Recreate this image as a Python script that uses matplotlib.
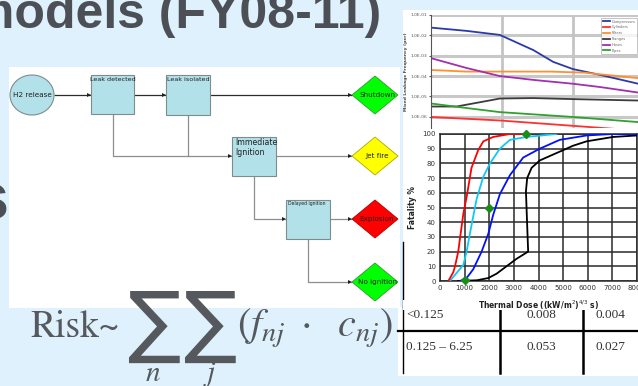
import matplotlib
matplotlib.use("Agg")
import matplotlib.pyplot as plt
from matplotlib.patches import Rectangle, Ellipse, Polygon
import numpy as np

# ---------------- data ----------------
title_text = "models (FY08-11)"

# top chart: leakage frequency (log) vs. leak size (arbitrary x units)
leg_labels = ["Compressors", "Cylinders", "Filters", "Flanges", "Hoses", "Pipes"]
blue_x = [0.0, 0.50, 0.97, 1.44, 1.72, 2.0, 2.38, 2.92]
blue_y = [2.4e-2, 1.66e-2, 1.05e-2, 1.9e-3, 5.0e-4, 2.2e-4, 1.15e-4, 4.2e-5]
red_x = [0.0, 0.97, 2.0, 2.92]
red_y = [9.8e-7, 6.6e-7, 3.6e-7, 2.1e-7]
orange_x = [0.0, 0.50, 0.97, 1.68, 2.15, 2.92]
orange_y = [2.0e-4, 1.66e-4, 1.66e-4, 1.66e-4, 1.48e-4, 7.9e-5]
black_x = [0.0, 0.36, 0.74, 0.97, 1.44, 2.0, 2.92]
black_y = [3.2e-6, 3.2e-6, 5.6e-6, 7.9e-6, 8.3e-6, 7.4e-6, 6.3e-6]
purple_x = [0.0, 0.50, 0.97, 1.44, 2.0, 2.38, 2.92]
purple_y = [7.6e-4, 2.5e-4, 1.0e-4, 6.5e-5, 4.2e-5, 2.9e-5, 1.55e-5]
green_x = [0.0, 0.50, 0.97, 2.0, 2.92]
green_y = [4.5e-6, 2.7e-6, 1.7e-6, 9.8e-7, 5.5e-7]
top_ticks = [1e-1, 1e-2, 1e-3, 1e-4, 1e-5, 1e-6]
top_ticklabels = ["1.0E-01", "1.0E-02", "1.0E-03", "1.0E-04", "1.0E-05", "1.0E-06"]

# lower chart: fatality vs thermal dose
fr_dose = [340, 540, 610, 740, 950, 1080, 1280, 1550, 1760, 2160, 2840, 3500]
fr_pct = [0, 6, 10, 20, 46, 57, 77, 89, 95, 98, 100, 100]
fc_dose = [400, 950, 1080, 1280, 1490, 1760, 2030, 2430, 2840, 3510, 4730]
fc_pct = [0, 11, 20, 38, 56, 71, 80, 90, 96, 98, 100]
fb_dose = [810, 1080, 1350, 1690, 1960, 2160, 2430, 2840, 3380, 4050, 4860, 5950, 7000, 8000]
fb_pct = [0, 2, 8, 20, 32, 45, 59, 72, 84, 90, 96, 99, 100, 100]
fk_dose = [740, 1500, 1960, 2300, 2700, 3100, 3580, 3540, 3490, 3540, 3720, 3920, 4050,
           4590, 5000, 5400, 5950, 7030, 8000]
fk_pct = [0, 0.5, 2, 5, 10, 15, 20, 38, 61, 70, 77, 80, 82, 86, 89, 92, 95, 98, 99]
mk_dose = [1000, 2000, 3500]
mk_pct = [1, 50, 100]

# table
tab_col1 = ["<0.125", "0.125 \u2013 6.25"]
tab_col2 = ["0.008", "0.053"]
tab_col3 = ["0.004", "0.027"]

# ---------------- figure ----------------
W, H = 638, 386
BG = "#dff1fc"
fig = plt.figure(figsize=(W / 100, H / 100), dpi=100)
fig.patch.set_facecolor(BG)

ax0 = fig.add_axes([0, 0, 1, 1])
ax0.set_xlim(0, W)
ax0.set_ylim(H, 0)
ax0.axis("off")
ax0.set_zorder(0)


def px_axes(x0, y0, x1, y1):
    return fig.add_axes([x0 / W, 1 - y1 / H, (x1 - x0) / W, (y1 - y0) / H])


TXT = "#4c5056"
# title
ax0.text(-30, 28, title_text, fontsize=36, fontweight="bold", color=TXT,
         family="Liberation Sans", va="baseline", ha="left", zorder=1)
ax0.text(9, 219, "s", fontsize=48, fontweight="bold", color=TXT,
         family="Liberation Sans", va="baseline", ha="right", zorder=1)

# white panels
ax0.add_patch(Rectangle((9, 67), 391, 241, facecolor="white", edgecolor="none", zorder=2))
ax0.add_patch(Rectangle((403, 10), 235, 122, facecolor="white", edgecolor="none", zorder=2))
ax0.add_patch(Rectangle((403, 130), 235, 177, facecolor="white", edgecolor="none", zorder=2))
ax0.add_patch(Rectangle((398, 307), 240, 69, facecolor="white", edgecolor="none", zorder=2))
ax0.plot([403, 403], [242, 307], color="black", lw=1.0, zorder=3)

# ---------------- flowchart ----------------
BOX = "#b3e1e9"
BEDGE = "#7f8c8f"
NARROW = ["Liberation Sans Narrow", "DejaVu Sans"]


def box(x0, y0, x1, y1):
    ax0.add_patch(Rectangle((x0, y0), x1 - x0, y1 - y0, facecolor=BOX, edgecolor=BEDGE,
                            lw=0.8, zorder=4))


def diamond(cx, cy, fc, ec, label):
    ax0.add_patch(Polygon([(cx - 23, cy), (cx, cy - 19), (cx + 23, cy), (cx, cy + 19)],
                          closed=True, facecolor=fc, edgecolor=ec, lw=0.6, zorder=4))
    ax0.text(cx + 2, cy, label, fontsize=5.2, family=NARROW, ha="center", va="center",
             color="#202020", zorder=5)


def arrow_line(pts, color):
    xs = [p[0] for p in pts]
    ys = [p[1] for p in pts]
    ax0.plot(xs, ys, color=color, lw=0.9, zorder=3, solid_capstyle="butt")
    ax0.add_patch(Polygon([(xs[-1], ys[-1]), (xs[-1] - 4, ys[-1] - 2), (xs[-1] - 4, ys[-1] + 2)],
                          closed=True, facecolor="#202020", edgecolor="none", zorder=5))


DARK = "#2b2b2b"
GREY = "#8e8e8e"
arrow_line([(54, 95), (91, 95)], DARK)
arrow_line([(134, 95), (166, 95)], DARK)
arrow_line([(210, 95), (352, 95)], DARK)
arrow_line([(113, 114), (113, 156), (232, 156)], GREY)
ax0.plot([188, 188], [115, 156], color=GREY, lw=0.9, zorder=3)
arrow_line([(276, 156), (352, 156)], GREY)
arrow_line([(254, 176), (254, 219), (286, 219)], GREY)
arrow_line([(330, 219), (352, 219)], GREY)
arrow_line([(308, 239), (308, 282), (352, 282)], GREY)

ax0.add_patch(Ellipse((32, 95), 44, 40, facecolor=BOX, edgecolor=BEDGE, lw=0.8, zorder=4))
ax0.text(32, 95, "H2 release", fontsize=5.2, family=NARROW, ha="center", va="center",
         color="#202020", zorder=5)
box(91, 75, 134, 114)
ax0.text(112.5, 77, "Leak detected", fontsize=4.6, family=NARROW, ha="center", va="top",
         color="#202020", zorder=5)
box(166, 75, 210, 115)
ax0.text(188, 77, "Leak isolated", fontsize=4.6, family=NARROW, ha="center", va="top",
         color="#202020", zorder=5)
box(232, 137, 276, 176)
ax0.text(235, 138, "Immediate\nIgnition", fontsize=5.6, family=NARROW, ha="left", va="top",
         color="#202020", linespacing=1.15, zorder=5)
box(286, 200, 330, 239)
ax0.text(288, 201, "Delayed ignition", fontsize=3.3, family=NARROW, ha="left", va="top",
         color="#202020", zorder=5)

diamond(375, 95, "#00ff00", "#2e9b2e", "Shutdown")
diamond(375, 156, "#ffff00", "#a8a800", "Jet fire")
diamond(375, 219, "#ff0000", "#b00000", "Explosion")
diamond(375, 282, "#00ff00", "#2e9b2e", "No ignition")

# ---------------- formula ----------------
FC = "#55595e"
ax0.text(30, 337, "Risk~", fontsize=27, family="STIXGeneral", color=FC, va="baseline",
         ha="left", zorder=6)
for sx in (154, 210):
    ax0.text(sx, 326, "\u2211", fontsize=57, family="DejaVu Sans", color=FC, va="center",
             ha="center", zorder=6)
ax0.text(153, 381, r"$n$", fontsize=21, color=FC, va="baseline", ha="center", zorder=6,
         math_fontfamily="stix")
ax0.text(210, 381, r"$j$", fontsize=21, color=FC, va="baseline", ha="center", zorder=6,
         math_fontfamily="stix")
ax0.text(237, 337, r"$(f_{nj}\ \cdot\ \ c_{nj})$", fontsize=29, color=FC, va="baseline",
         ha="left", zorder=6, math_fontfamily="stix")

# ---------------- table ----------------
ax0.plot([398, 638], [331, 331], color="black", lw=1.6, zorder=3)
for xv in (500, 583):
    ax0.plot([xv, xv], [307, 373], color="black", lw=1.8, zorder=3)
ax0.plot([403, 403], [307, 373], color="black", lw=1.0, zorder=3)
rows_y = [315, 347]
for i, yv in enumerate(rows_y):
    ax0.text(406, yv, tab_col1[i], fontsize=9.5, family="Liberation Serif", color="#333333",
             ha="left", va="center", zorder=4)
    ax0.text(541, yv, tab_col2[i], fontsize=9.5, family="Liberation Serif", color="#333333",
             ha="center", va="center", zorder=4)
    ax0.text(610, yv, tab_col3[i], fontsize=9.5, family="Liberation Serif", color="#333333",
             ha="center", va="center", zorder=4)
# cover the top of first row (image clip)
ax0.add_patch(Rectangle((403, 300), 235, 9.5, facecolor="white", edgecolor="none", zorder=5))

# ---------------- top chart ----------------
ax1 = px_axes(431, 15, 644, 128)
ax1.set_zorder(2)
ax1.patch.set_alpha(0)
ax1.set_yscale("log")
ax1.set_ylim(10 ** -6.55, 1e-1)
ax1.set_xlim(0, 3)
for yv in top_ticks:
    ax1.axhline(yv, color="#c8c8c8", lw=2.2, zorder=0)
for xv in (1, 2):
    ax1.axvline(xv, color="#c4c4c4", lw=2.0, zorder=0)
series = [(blue_x, blue_y, "#2b3aa8"), (red_x, red_y, "#ff3030"),
          (orange_x, orange_y, "#ff9030"), (black_x, black_y, "#3c3c3c"),
          (purple_x, purple_y, "#a030b0"), (green_x, green_y, "#30a030")]
for (xs, ys, c), lab in zip(series, leg_labels):
    ax1.plot(xs, ys, color=c, lw=1.3, label=lab, zorder=2)
ax1.set_yticks(top_ticks)
ax1.set_yticklabels(top_ticklabels)
ax1.minorticks_off()
ax1.tick_params(axis="y", labelsize=3.2, length=1.5, pad=1, colors="#555555")
ax1.tick_params(axis="x", bottom=False, labelbottom=False)
for s in ("top", "right", "bottom"):
    ax1.spines[s].set_visible(False)
ax1.spines["left"].set_color("#555555")
ax1.spines["left"].set_linewidth(0.8)
ax1.set_ylabel("Mixed Leakage Frequency (per)", fontsize=3.2, fontweight="bold",
               color="#444444", labelpad=2)
leg = ax1.legend(loc="upper left", bbox_to_anchor=(599 / W, 1 - 16 / H),
                 bbox_transform=fig.transFigure, fontsize=2.6, handlelength=2.0,
                 handletextpad=0.4, borderpad=0.5, labelspacing=0.5, frameon=True,
                 fancybox=False, edgecolor="#999999")
leg.get_frame().set_linewidth(0.5)
for t in leg.get_texts():
    t.set_color("#666666")

# ---------------- lower chart ----------------
ax2 = px_axes(440, 134, 637, 281)
ax2.set_zorder(3)
ax2.set_facecolor("white")
ax2.set_xlim(0, 8000)
ax2.set_ylim(0, 100)
ax2.set_xticks(np.arange(0, 8001, 1000))
ax2.set_yticks(np.arange(0, 101, 10))
ax2.grid(True, color="#2a2a2a", lw=1.1)
ax2.set_axisbelow(True)
ax2.plot(fk_dose, fk_pct, color="black", lw=1.3, zorder=3)
ax2.plot(fb_dose, fb_pct, color="#0010ff", lw=1.3, zorder=3)
ax2.plot(fc_dose, fc_pct, color="#10c8f8", lw=1.3, zorder=3)
ax2.plot(fr_dose, fr_pct, color="#ff0000", lw=1.3, zorder=3)
ax2.plot(mk_dose, mk_pct, linestyle="none", marker="D", color="#1a8c1a", ms=4.2, zorder=4,
         clip_on=False)
ax2.tick_params(labelsize=5, length=0, pad=3, colors="#333333")
for s in ax2.spines.values():
    s.set_color("#2a2a2a")
    s.set_linewidth(1.1)
ax2.set_ylabel("Fatality %", fontsize=5.5, fontweight="bold", color="#222222", labelpad=4)
ax2.set_xlabel(r"Thermal Dose ((kW/m$^2$)$^{4/3}$ s)", fontsize=5.5, fontweight="bold",
               color="#222222", labelpad=5)

fig.savefig("out.png", dpi=100, facecolor=BG)
